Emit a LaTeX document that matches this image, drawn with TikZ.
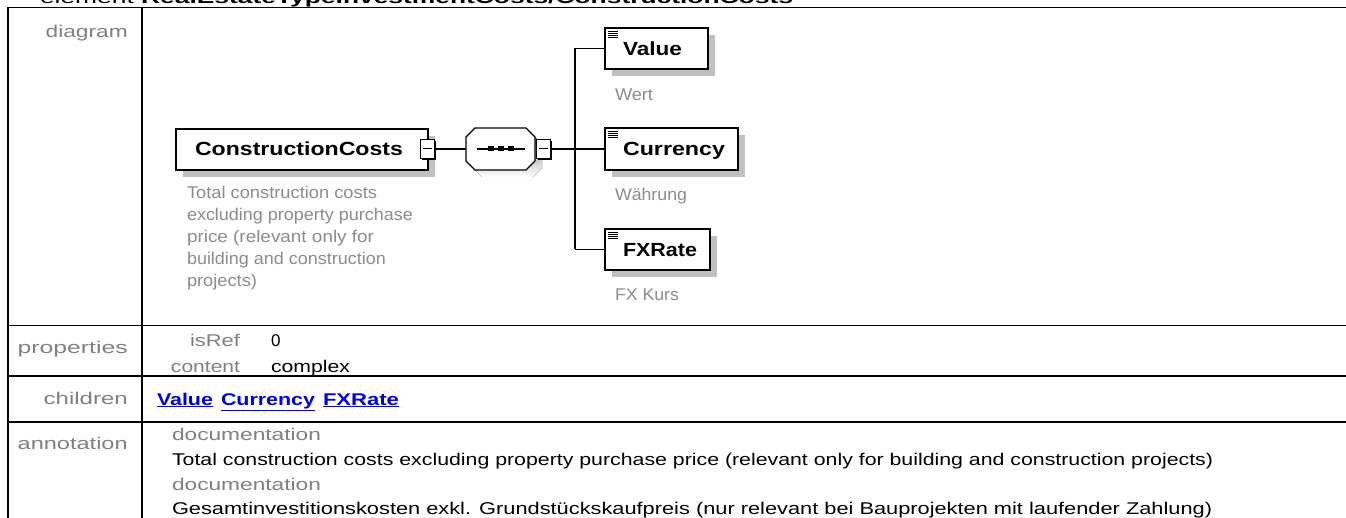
\documentclass[tikz,border=0pt]{standalone}
\usepackage{fontspec}
\setmainfont{Liberation Sans}
\usetikzlibrary{shadows}
\definecolor{lblgray}{RGB}{128,128,128}
\definecolor{docgray}{RGB}{140,140,140}
\definecolor{shade}{RGB}{192,192,192}
\definecolor{linkblue}{RGB}{0,0,230}
\newcommand\fitw[2]{\resizebox{#1pt}{\height}{#2}}
\newcommand\fsz[1]{\fontsize{#1}{#1}\selectfont}
\begin{document}
\begin{tikzpicture}[x=1pt,y=-1pt,
  txt/.style={inner sep=0pt, outer sep=0pt},
  lbl/.style={txt, anchor=base east, text=lblgray, font=\fsz{17}},
  blk/.style={txt, anchor=base west, text=black, font=\fsz{17}},
  gry/.style={txt, anchor=base west, text=lblgray, font=\fsz{17}},
  lnk/.style={txt, anchor=base west, text=linkblue, font=\bfseries\fsz{17}},
  desc/.style={txt, anchor=base west, text=docgray, font=\fsz{17}, align=left},
  elname/.style={txt, anchor=base west, font=\bfseries\fsz{19}},
  tline/.style={line width=1.6pt, black},
  conn/.style={line width=1.3pt, black},
  elbox/.style={draw, line width=1.4pt, fill=white, inner sep=0pt, outer sep=0pt,
    general shadow={fill=shade, shadow xshift=7pt, shadow yshift=-7pt}},
  minusbox/.style={draw, line width=1pt, fill=white, inner sep=0pt, outer sep=0pt,
    minimum width=14pt, minimum height=19pt,
    general shadow={fill=black, shadow xshift=2pt, shadow yshift=-2pt}},
  seqarea/.style={inner sep=0pt, outer sep=0pt, minimum width=69pt, minimum height=42pt}
]
\useasboundingbox (0,0) rectangle (1346,518);
\fill[white] (0,0) rectangle (1346,518);

% title (cut off at top)
\node[txt, anchor=base west, font=\fsz{17}] (title) at (40,3.5)
  {\fitw{753}{element \textbf{RealEstateTypeInvestmentCosts/ConstructionCosts}}};

% table grid
\draw[tline] (8,7.5) -- (1346,7.5);
\draw[tline] (8,7.5) -- (8,518);
\draw[tline] (142,7.5) -- (142,518);
\draw[tline] (8,325.7) -- (1346,325.7);
\draw[line width=2pt] (8,375.5) -- (1346,375.5);
\draw[tline] (8,421.7) -- (1346,421.7);

% row labels
\node[lbl] (ldiag) at (127.7,38) {\fitw{82}{diagram}};
\node[lbl] (lprop) at (127.7,354) {\fitw{110}{properties}};
\node[lbl] (lchild) at (127.7,404) {\fitw{84}{children}};
\node[lbl] (lanno) at (127.7,449) {\fitw{110}{annotation}};

% properties
\node[txt, anchor=base east, text=lblgray, font=\fsz{17}] (pisref) at (240,347) {\fitw{50}{isRef}};
\node[txt, anchor=base east, text=lblgray, font=\fsz{17}] (pcont) at (240,372) {\fitw{69}{content}};
\node[blk] (pzero) at (271,347) {0};
\node[blk] (pcomplex) at (271,372) {\fitw{79}{complex}};

% children links
\node[lnk] (cv) at (157,405) {\fitw{56}{\underline{Value}}};
\node[lnk] (cc) at (221,405) {\fitw{94}{\underline{Currency}}};
\node[lnk] (cf) at (323,405) {\fitw{76}{\underline{FXRate}}};

% annotation
\node[gry] (doc1) at (172,440) {\fitw{149}{documentation}};
\node[blk] (ann1) at (172,465) {\fitw{1041}{Total construction costs excluding property purchase price (relevant only for building and construction projects)}};
\node[gry] (doc2) at (172,490) {\fitw{149}{documentation}};
\node[blk] (ann2) at (172,514) {\fitw{1040}{Gesamtinvestitionskosten exkl. Grundstückskaufpreis (nur relevant bei Bauprojekten mit laufender Zahlung)}};

% ---- diagram ----
\coordinate (j) at (575,149);
\coordinate (jt) at (575,48.5);
\coordinate (jb) at (575,249.5);

\node[elbox, minimum width=252pt, minimum height=41pt] (ccbox) at (302,149.5) {};
\node[elbox, minimum width=103pt, minimum height=41pt] (vbox) at (656.5,48.5) {};
\node[elbox, minimum width=133pt, minimum height=42pt] (cbox) at (671.5,149) {};
\node[elbox, minimum width=105pt, minimum height=41pt] (fbox) at (657.5,249.5) {};

\node[seqarea] (seq) at (500.5,149) {};
\node[minusbox] (m1) at (427,149) {};
\node[minusbox] (m2) at (543,149) {};

% connectors
\draw[conn] (m1.east) -- (seq.west);
\draw[conn] (m2.east) -- (j);
\draw[conn] (jt) -- (jb);
\draw[conn] (jt) -- (vbox.west);
\draw[conn] (j) -- (cbox.west);
\draw[conn] (jb) -- (fbox.west);

% sequence octagon (shadow + body)
\fill[shade] (482,135) -- (533,135) -- (542,144) -- (542,168) -- (533,177) -- (482,177) -- (473,168) -- (473,144) -- cycle;
\draw[line width=1.1pt, fill=white] (475,128) -- (526,128) -- (535,137) -- (535,161) -- (526,170) -- (475,170) -- (466,161) -- (466,137) -- cycle;
\draw[line width=1.2pt] (477,149) -- (525,149);
\foreach \cx in {491,501,511} \fill[black] (\cx-3,146.5) rectangle (\cx+3,151.5);

% redraw minus boxes on top
\node[minusbox] at (m1) {};
\node[minusbox] at (m2) {};
\draw[line width=1pt] ([xshift=-4.5pt]m1.center) -- ([xshift=4.5pt]m1.center);
\draw[line width=1pt] ([xshift=-4.5pt]m2.center) -- ([xshift=4.5pt]m2.center);

% element names
\node[elname] (tcc) at (195,156) {\fitw{208}{ConstructionCosts}};
\node[elname] (tv) at (623,55.5) {\fitw{59}{Value}};
\node[elname] (tc) at (623,156) {\fitw{102}{Currency}};
\node[elname] (tf) at (623,256.5) {\fitw{74}{FXRate}};

% simple-content icons
\foreach \b in {vbox,cbox,fbox}{
  \foreach \d in {3.5,5.5,7.5,9.5}
    \draw[line width=0.9pt] ([xshift=3pt,yshift=-\d pt]\b.north west) -- ++(10,0);
}

% descriptions
\node[desc, anchor=base west] (dcc1) at (187,199) {\fitw{190}{Total construction costs}};
\node[desc] (dcc2) at (187,221) {\fitw{226}{excluding property purchase}};
\node[desc] (dcc3) at (187,243) {\fitw{187}{price (relevant only for}};
\node[desc] (dcc4) at (187,265) {\fitw{199}{building and construction}};
\node[desc] (dcc5) at (187,287) {\fitw{70}{projects)}};
\node[desc] (dv) at (615,101) {\fitw{38}{Wert}};
\node[desc] (dc) at (615,201) {\fitw{72}{Währung}};
\node[desc] (df) at (615,300.5) {\fitw{64}{FX Kurs}};
\end{tikzpicture}
\end{document}
